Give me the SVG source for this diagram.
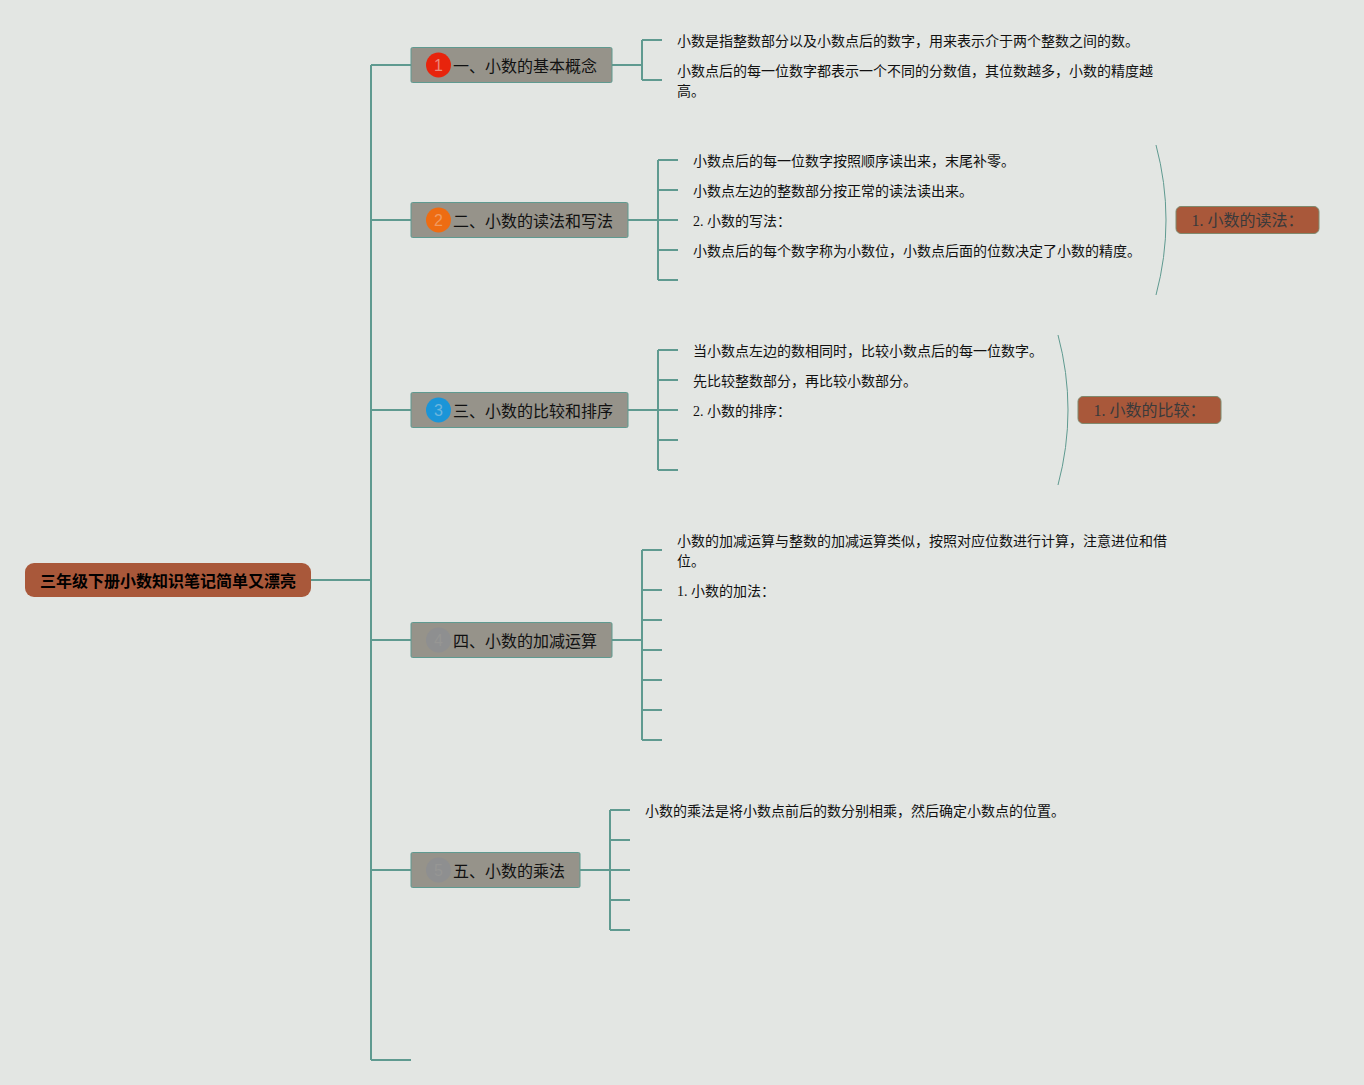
<svg xmlns="http://www.w3.org/2000/svg" width="1364" height="1085" viewBox="0 0 1364 1085">
<style>
text{font-family:"Liberation Serif","Noto Sans CJK SC",serif;fill:#111}
.d{font-size:14px}
.n{font-size:16px;fill:#111}
.t{font-size:16px;font-weight:bold;fill:#000}
.s{font-size:16px;fill:#3a3a3a}
.c{fill:none;stroke:#5f9a90;stroke-width:2}
.b{fill:none;stroke:#5f9a90;stroke-width:1}
.box{fill:#96938a;stroke:#5f9a90;stroke-width:1}
.sum{fill:#a9583a;stroke:#7f8a6e;stroke-width:1}
.num{font-size:16px;text-anchor:middle;font-family:"Liberation Sans",sans-serif}
</style>
<rect width="1364" height="1085" fill="#e3e6e3"/>
<g id="connectors">
<path class="c" d="M311 580H371M371 65V1060M371 65H411M371 220H411M371 410H411M371 640H411M371 870H411M371 1060H411"/>
<path class="c" d="M612 65H642M642 40V80M642 40H662M642 80H662"/>
<path class="c" d="M628 220H678M658 160V280M658 160H678M658 190H678M658 250H678M658 280H678"/>
<path class="c" d="M628 410H678M658 350V470M658 350H678M658 380H678M658 440H678M658 470H678"/>
<path class="c" d="M612 640H642M642 550V740M642 550H662M642 590H662M642 620H662M642 650H662M642 680H662M642 710H662M642 740H662"/>
<path class="c" d="M580 870H630M610 810V930M610 810H630M610 840H630M610 900H630M610 930H630"/>
<path class="b" d="M1156 145Q1176 220 1156 295"/>
<path class="b" d="M1058 335Q1078 410 1058 485"/>
</g>
<g id="root"><rect x="25" y="563" width="286" height="34" rx="9" fill="#a9583a"/><text class="t" x="40" y="586.500">三年级下册小数知识笔记简单又漂亮</text></g>
<g id="node1"><rect class="box" x="411" y="47.500" width="201" height="35" rx="1.500"/><circle cx="438.500" cy="65" r="12.500" fill="#e8240c"/><text class="num" x="438.500" y="71" style="fill:#ec8a7c">1</text><text class="n" x="453" y="72">一、小数的基本概念</text></g>
<g id="node2"><rect class="box" x="411" y="202.500" width="217" height="35" rx="1.500"/><circle cx="438.500" cy="220" r="12.500" fill="#ee6c12"/><text class="num" x="438.500" y="226" style="fill:#f09a60">2</text><text class="n" x="453" y="227">二、小数的读法和写法</text></g>
<g id="node3"><rect class="box" x="411" y="392.500" width="217" height="35" rx="1.500"/><circle cx="438.500" cy="410" r="12.500" fill="#1b95d8"/><text class="num" x="438.500" y="416" style="fill:#6db6de">3</text><text class="n" x="453" y="417">三、小数的比较和排序</text></g>
<g id="node4"><rect class="box" x="411" y="622.500" width="201" height="35" rx="1.500"/><circle cx="438.500" cy="640" r="12.500" fill="#8e8f90"/><text class="num" x="438.500" y="646" style="fill:#969694">4</text><text class="n" x="453" y="647">四、小数的加减运算</text></g>
<g id="node5"><rect class="box" x="411" y="852.500" width="169" height="35" rx="1.500"/><circle cx="438.500" cy="870" r="12.500" fill="#8e8f90"/><text class="num" x="438.500" y="876" style="fill:#969694">5</text><text class="n" x="453" y="877">五、小数的乘法</text></g>
<g id="leaf1a"><text class="d" x="677" y="46">小数是指整数部分以及小数点后的数字，用来表示介于两个整数之间的数。</text></g>
<g id="leaf1b"><text class="d" x="677" y="76">小数点后的每一位数字都表示一个不同的分数值，其位数越多，小数的精度越</text><text class="d" x="677" y="96">高。</text></g>
<g id="leaf2a"><text class="d" x="693" y="166">小数点后的每一位数字按照顺序读出来，末尾补零。</text></g>
<g id="leaf2b"><text class="d" x="693" y="196">小数点左边的整数部分按正常的读法读出来。</text></g>
<g id="leaf2c"><text class="d" x="693" y="226">2. 小数的写法：</text></g>
<g id="leaf2d"><text class="d" x="693" y="256">小数点后的每个数字称为小数位，小数点后面的位数决定了小数的精度。</text></g>
<g id="leaf3a"><text class="d" x="693" y="356">当小数点左边的数相同时，比较小数点后的每一位数字。</text></g>
<g id="leaf3b"><text class="d" x="693" y="386">先比较整数部分，再比较小数部分。</text></g>
<g id="leaf3c"><text class="d" x="693" y="416">2. 小数的排序：</text></g>
<g id="leaf4a"><text class="d" x="677" y="546">小数的加减运算与整数的加减运算类似，按照对应位数进行计算，注意进位和借</text><text class="d" x="677" y="566">位。</text></g>
<g id="leaf4b"><text class="d" x="677" y="596">1. 小数的加法：</text></g>
<g id="leaf5a"><text class="d" x="645" y="816">小数的乘法是将小数点前后的数分别相乘，然后确定小数点的位置。</text></g>
<g id="summary1"><rect class="sum" x="1176" y="206.500" width="143" height="27" rx="5"/><text class="s" x="1191.500" y="226">1. 小数的读法：</text></g>
<g id="summary2"><rect class="sum" x="1078" y="396.500" width="143" height="27" rx="5"/><text class="s" x="1093.500" y="416">1. 小数的比较：</text></g>
</svg>
